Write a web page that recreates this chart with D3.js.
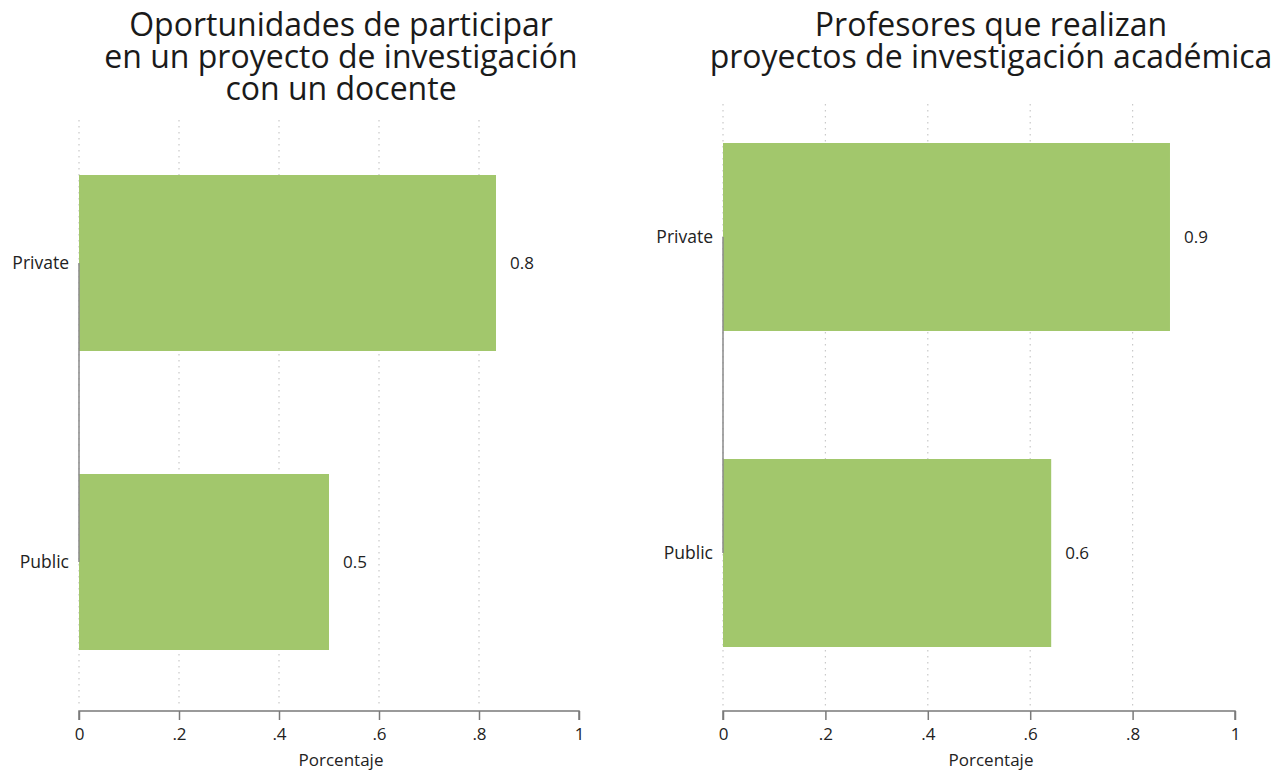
<!DOCTYPE html>
<html>
<head>
<meta charset="utf-8">
<script src="https://cdn.jsdelivr.net/npm/d3@7"></script>
<style>
  html, body { margin: 0; padding: 0; background: #fff; }
  svg { display: block; font-family: "Open Sans", sans-serif; }
</style>
</head>
<body>
<svg id="chart" width="1285" height="771"></svg>
<script>
// ---- data ----
const categories = ["Private", "Public"];
const leftValues = [0.834, 0.50];
const rightValues = [0.873, 0.641];
const leftTitle = ["Oportunidades de participar", "en un proyecto de investigación", "con un docente"];
const rightTitle = ["Profesores que realizan", "proyectos de investigación académica"];
const tickValues = [0, 0.2, 0.4, 0.6, 0.8, 1];
const tickLabels = ["0", ".2", ".4", ".6", ".8", "1"];
const gridValues = [0, 0.2, 0.4, 0.6, 0.8];
const xAxisTitle = "Porcentaje";

// ---- layout ----
const svg = d3.select("#chart");
const barColor = "#a2c76c";
const axisY = 711;

const panels = [
  { values: leftValues, title: leftTitle, x0: 79, x1: 579, gridTop: 120, cat0: 263, cat1: 562, barH: 176, center: 341 },
  { values: rightValues, title: rightTitle, x0: 723, x1: 1235, gridTop: 104, cat0: 237, cat1: 553, barH: 188, center: 991 }
];

panels.forEach(p => {
  const g = svg.append("g");
  const x = d3.scaleLinear().domain([0, 1]).range([p.x0, p.x1]);
  const y = d3.scalePoint().domain(categories).range([p.cat0, p.cat1]);

  // title
  g.append("text")
    .attr("text-anchor", "middle")
    .attr("font-size", 32)
    .attr("fill", "#1a1a1a")
    .selectAll("tspan").data(p.title).join("tspan")
    .attr("x", p.center)
    .attr("y", (d, i) => 36 + i * 32)
    .text(d => d);

  // grid lines
  g.append("g").selectAll("line").data(gridValues).join("line")
    .attr("x1", d => x(d)).attr("x2", d => x(d))
    .attr("y1", p.gridTop).attr("y2", axisY - 4)
    .attr("stroke", "#c9c9c9")
    .attr("stroke-width", 1.2)
    .attr("stroke-dasharray", "1.5,4.5");

  // bars
  g.append("g").selectAll("rect").data(categories).join("rect")
    .attr("x", x(0))
    .attr("y", d => y(d) - p.barH / 2)
    .attr("width", (d, i) => x(p.values[i]) - x(0))
    .attr("height", p.barH)
    .attr("fill", barColor);

  // value labels
  g.append("g").selectAll("text").data(categories).join("text")
    .attr("x", (d, i) => x(p.values[i]) + 14)
    .attr("y", d => y(d))
    .attr("dy", "0.35em")
    .attr("font-size", 17)
    .attr("fill", "#222")
    .text((d, i) => d3.format(".1f")(p.values[i]));

  // y axis line (between categories)
  g.append("line")
    .attr("x1", x(0)).attr("x2", x(0))
    .attr("y1", y(categories[0])).attr("y2", y(categories[categories.length - 1]))
    .attr("stroke", "#8a8a8a").attr("stroke-width", 1.5);

  // y labels
  g.append("g").selectAll("text").data(categories).join("text")
    .attr("x", x(0) - 10)
    .attr("y", d => y(d))
    .attr("dy", "0.35em")
    .attr("text-anchor", "end")
    .attr("font-size", 17.5)
    .attr("fill", "#222")
    .text(d => d);

  // x axis
  const xAxis = d3.axisBottom(x)
    .tickValues(tickValues)
    .tickFormat((d, i) => tickLabels[i])
    .tickSize(9)
    .tickPadding(8);
  const ax = g.append("g").attr("transform", `translate(0,${axisY})`).call(xAxis);
  ax.select(".domain").attr("stroke", "#7a7a7a").attr("stroke-width", 1.5)
    .attr("d", `M${x(0)},9V0H${x(1)}V9`);
  ax.selectAll(".tick line").attr("stroke", "#7a7a7a").attr("stroke-width", 1.5);
  ax.selectAll(".tick text").attr("font-size", 17).attr("fill", "#222")
    .attr("font-family", "Open Sans, sans-serif");

  // x axis title
  g.append("text")
    .attr("x", p.center)
    .attr("y", 766)
    .attr("text-anchor", "middle")
    .attr("font-size", 17)
    .attr("fill", "#222")
    .text(xAxisTitle);
});
</script>
</body>
</html>
